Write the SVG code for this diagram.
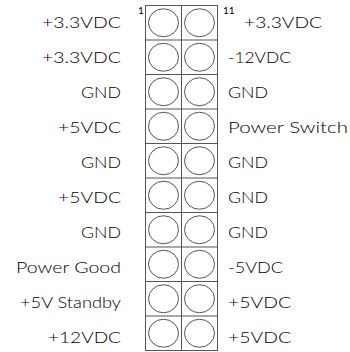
<svg xmlns="http://www.w3.org/2000/svg" width="350" height="352" viewBox="0 0 350 352">
<style>
text{font-family:Lato,"Liberation Sans",Arial,sans-serif;font-weight:300;font-size:15.5px;fill:#000}
.l{text-anchor:end}
.n{font-size:10px;font-weight:400}
.g{fill:none;stroke:#555;stroke-width:1}
.p{fill:#fff;stroke:#555;stroke-width:1}
</style>
<rect width="350" height="352" fill="#fff"/>
<g id="connector-grid">
<rect class="g" x="145.5" y="5.5" width="72" height="345"/>
<line class="g" x1="181.5" y1="5.5" x2="181.5" y2="350.5"/>
<line class="g" x1="145.5" y1="40" x2="217.5" y2="40"/>
<line class="g" x1="145.5" y1="74.5" x2="217.5" y2="74.5"/>
<line class="g" x1="145.5" y1="109" x2="217.5" y2="109"/>
<line class="g" x1="145.5" y1="143.5" x2="217.5" y2="143.5"/>
<line class="g" x1="145.5" y1="178" x2="217.5" y2="178"/>
<line class="g" x1="145.5" y1="212.5" x2="217.5" y2="212.5"/>
<line class="g" x1="145.5" y1="247" x2="217.5" y2="247"/>
<line class="g" x1="145.5" y1="281.5" x2="217.5" y2="281.5"/>
<line class="g" x1="145.5" y1="316" x2="217.5" y2="316"/>
</g>
<g id="pins">
<ellipse class="p" cx="163.5" cy="22.75" rx="15" ry="14"/><ellipse class="p" cx="199.5" cy="22.75" rx="15" ry="14"/>
<ellipse class="p" cx="163.5" cy="57.25" rx="15" ry="14"/><ellipse class="p" cx="199.5" cy="57.25" rx="15" ry="14"/>
<ellipse class="p" cx="163.5" cy="91.75" rx="15" ry="14"/><ellipse class="p" cx="199.5" cy="91.75" rx="15" ry="14"/>
<ellipse class="p" cx="163.5" cy="126.25" rx="15" ry="14"/><ellipse class="p" cx="199.5" cy="126.25" rx="15" ry="14"/>
<ellipse class="p" cx="163.5" cy="160.75" rx="15" ry="14"/><ellipse class="p" cx="199.5" cy="160.75" rx="15" ry="14"/>
<ellipse class="p" cx="163.5" cy="195.25" rx="15" ry="14"/><ellipse class="p" cx="199.5" cy="195.25" rx="15" ry="14"/>
<ellipse class="p" cx="163.5" cy="229.75" rx="15" ry="14"/><ellipse class="p" cx="199.5" cy="229.75" rx="15" ry="14"/>
<ellipse class="p" cx="163.5" cy="264.25" rx="15" ry="14"/><ellipse class="p" cx="199.5" cy="264.25" rx="15" ry="14"/>
<ellipse class="p" cx="163.5" cy="298.75" rx="15" ry="14"/><ellipse class="p" cx="199.5" cy="298.75" rx="15" ry="14"/>
<ellipse class="p" cx="163.5" cy="333.25" rx="15" ry="14"/><ellipse class="p" cx="199.5" cy="333.25" rx="15" ry="14"/>
</g>
<g id="pin-numbers">
<text class="n" x="138" y="14">1</text>
<text class="n" x="223" y="14">11</text>
</g>
<g id="left-labels">
<text class="l" x="121" y="27.5" textLength="79" lengthAdjust="spacingAndGlyphs">+3.3VDC</text>
<text class="l" x="121" y="62.6" textLength="79" lengthAdjust="spacingAndGlyphs">+3.3VDC</text>
<text class="l" x="121" y="97.7" textLength="40" lengthAdjust="spacingAndGlyphs">GND</text>
<text class="l" x="121" y="132.8" textLength="63" lengthAdjust="spacingAndGlyphs">+5VDC</text>
<text class="l" x="121" y="167.9" textLength="40" lengthAdjust="spacingAndGlyphs">GND</text>
<text class="l" x="121" y="203" textLength="63" lengthAdjust="spacingAndGlyphs">+5VDC</text>
<text class="l" x="121" y="238.1" textLength="40" lengthAdjust="spacingAndGlyphs">GND</text>
<text class="l" x="121" y="273.2" textLength="105" lengthAdjust="spacingAndGlyphs">Power Good</text>
<text class="l" x="121" y="308.3" textLength="101" lengthAdjust="spacingAndGlyphs">+5V Standby</text>
<text class="l" x="121" y="343.4" textLength="73" lengthAdjust="spacingAndGlyphs">+12VDC</text>
</g>
<g id="right-labels">
<text x="244" y="27.5" textLength="78" lengthAdjust="spacingAndGlyphs">+3.3VDC</text>
<text x="228" y="62.6" textLength="63" lengthAdjust="spacingAndGlyphs">-12VDC</text>
<text x="228" y="97.7" textLength="40" lengthAdjust="spacingAndGlyphs">GND</text>
<text x="228" y="132.8" textLength="120" lengthAdjust="spacingAndGlyphs">Power Switch</text>
<text x="228" y="167.9" textLength="40" lengthAdjust="spacingAndGlyphs">GND</text>
<text x="228" y="203" textLength="40" lengthAdjust="spacingAndGlyphs">GND</text>
<text x="228" y="238.1" textLength="40" lengthAdjust="spacingAndGlyphs">GND</text>
<text x="228" y="273.2" textLength="55" lengthAdjust="spacingAndGlyphs">-5VDC</text>
<text x="228" y="308.3" textLength="63" lengthAdjust="spacingAndGlyphs">+5VDC</text>
<text x="228" y="343.4" textLength="63" lengthAdjust="spacingAndGlyphs">+5VDC</text>
</g>
</svg>
